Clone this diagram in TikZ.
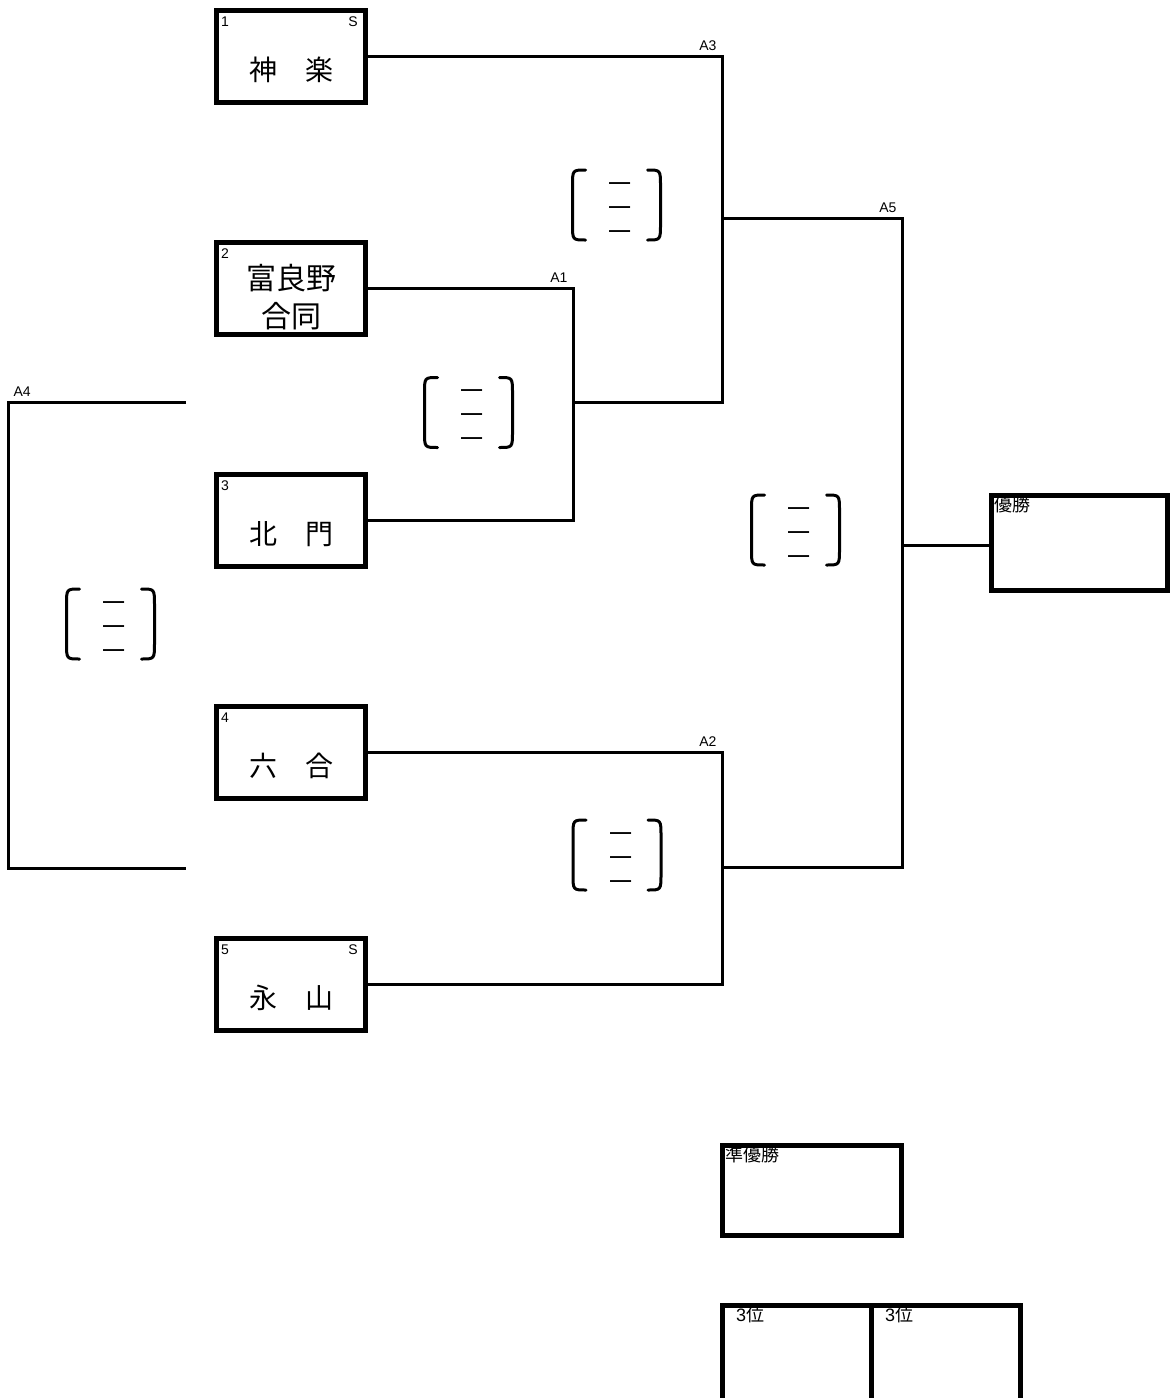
\documentclass[tikz,border=0pt]{standalone}
\usepackage{fontspec}
\setmainfont{Liberation Sans}
\newfontfamily\jpfont{Noto Sans CJK JP}
\usetikzlibrary{positioning}
\tikzstyle{box} = [draw, rectangle, line width=5pt, inner sep=0pt]
\tikzstyle{team} = [box, minimum width=149pt, minimum height=92pt]
\tikzstyle{teamname} = [anchor=base, inner sep=0pt, align=center, font=\jpfont\fontsize{28}{38}\selectfont]
\tikzstyle{seed} = [inner xsep=7pt, inner ysep=9pt, font=\fontsize{14}{14}\selectfont]
\tikzstyle{match} = [anchor=south east, inner sep=4pt, font=\fontsize{14}{14}\selectfont]
\tikzstyle{link} = [line width=3pt]
\tikzstyle{score} = [anchor=base, inner sep=0pt, align=center, font=\jpfont\fontsize{23}{24}\selectfont]
\tikzstyle{paren} = [line width=3pt, line cap=round]
\tikzstyle{rank} = [anchor=north west, inner xsep=5pt, inner ysep=3pt, font=\fontsize{18}{18}\selectfont]

\begin{document}
\begin{tikzpicture}[x=1pt, y=-1pt, node distance=135pt]
    \useasboundingbox (0,0) rectangle (1170,1398);

    % Teams.
    \node (team1) [team] at (291,56) {};
    \foreach \i [count=\j] in {2,...,5} {
        \node (team\i) [team, below=of team\j] {};
    }
    \foreach \i/\n in {1/神　楽, 3/北　門, 4/六　合, 5/永　山} {
        \node (name\i) [teamname] at ([yshift=-24pt]team\i.center) {\n};
    }
    \node (name2) [teamname, font=\jpfont\fontsize{30}{38}\selectfont] at ([yshift=-39pt]team2.center) {富良野\\合同};

    % Seeds.
    \foreach \i in {1,...,5} {
        \node (seed\i) [seed, anchor=north west] at (team\i.north west) {\i};
    }
    \foreach \i in {1,5} {
        \node (bye\i) [seed, anchor=north east, inner xsep=10pt] at (team\i.north east) {S};
    }

    % Matches.
    \coordinate (m1) at (573,402);
    \coordinate (m2) at (722,867);
    \coordinate (m3) at (722,218);
    \coordinate (m5) at (902,545);
    \coordinate (m4) at (8,635);
    \coordinate (a4a) at (186,402);
    \coordinate (a4b) at (186,868);

    % Results.
    \node (win) [box, minimum width=176pt, minimum height=95pt] at (1079.5,543) {};
    \node (second) [box, minimum width=179pt, minimum height=90pt] at (812,1190.5) {};
    \node (third1) [box, minimum width=149pt, minimum height=100pt] at (797,1355.5) {};
    \node (third2) [box, minimum width=149pt, minimum height=100pt] at (946,1355.5) {};
    \node (winl) [rank] at (win.north west) {\jpfont 優勝};
    \node (secondl) [rank] at (second.north west) {\jpfont 準優勝};
    \foreach \i in {1,2} {
        \node (third\i l) [rank, inner xsep=16pt] at (third\i.north west) {3\jpfont 位};
    }

    % Arrows.
    \draw [link] (team2.east) -| node [match] {A1} (m1) |- (team3.east);
    \draw [link] (team4.east) -| node [match] {A2} (m2) |- (team5.east);
    \draw [link] (team1.east) -| node [match] {A3} (m3) |- (m1);
    \draw [link] (m3) -| node [match] {A5} (m5) |- (m2);
    \draw [link] (m5) -- (m5 -| win.west);
    \draw [link] (a4a) -| node [match, anchor=south west] {A4} (m4) |- (a4b);

    % Scores.
    \foreach \i/\x/\y in {1/616.5/205, 2/468.5/412.5, 3/110.5/624, 4/795.5/530, 5/617/855} {
        \node (score\i) [score] at ({\x+3.5},{\y+35}) {一\\一\\一};
        \draw [paren] ({\x-31},{\y-35}) .. controls ({\x-44},{\y-35}) .. ({\x-44},{\y-19})
            -- ({\x-44},{\y+19}) .. controls ({\x-44},{\y+35}) .. ({\x-31},{\y+35});
        \draw [paren] ({\x+31},{\y-35}) .. controls ({\x+44},{\y-35}) .. ({\x+44},{\y-19})
            -- ({\x+44},{\y+19}) .. controls ({\x+44},{\y+35}) .. ({\x+31},{\y+35});
    }
\end{tikzpicture}
\end{document}
